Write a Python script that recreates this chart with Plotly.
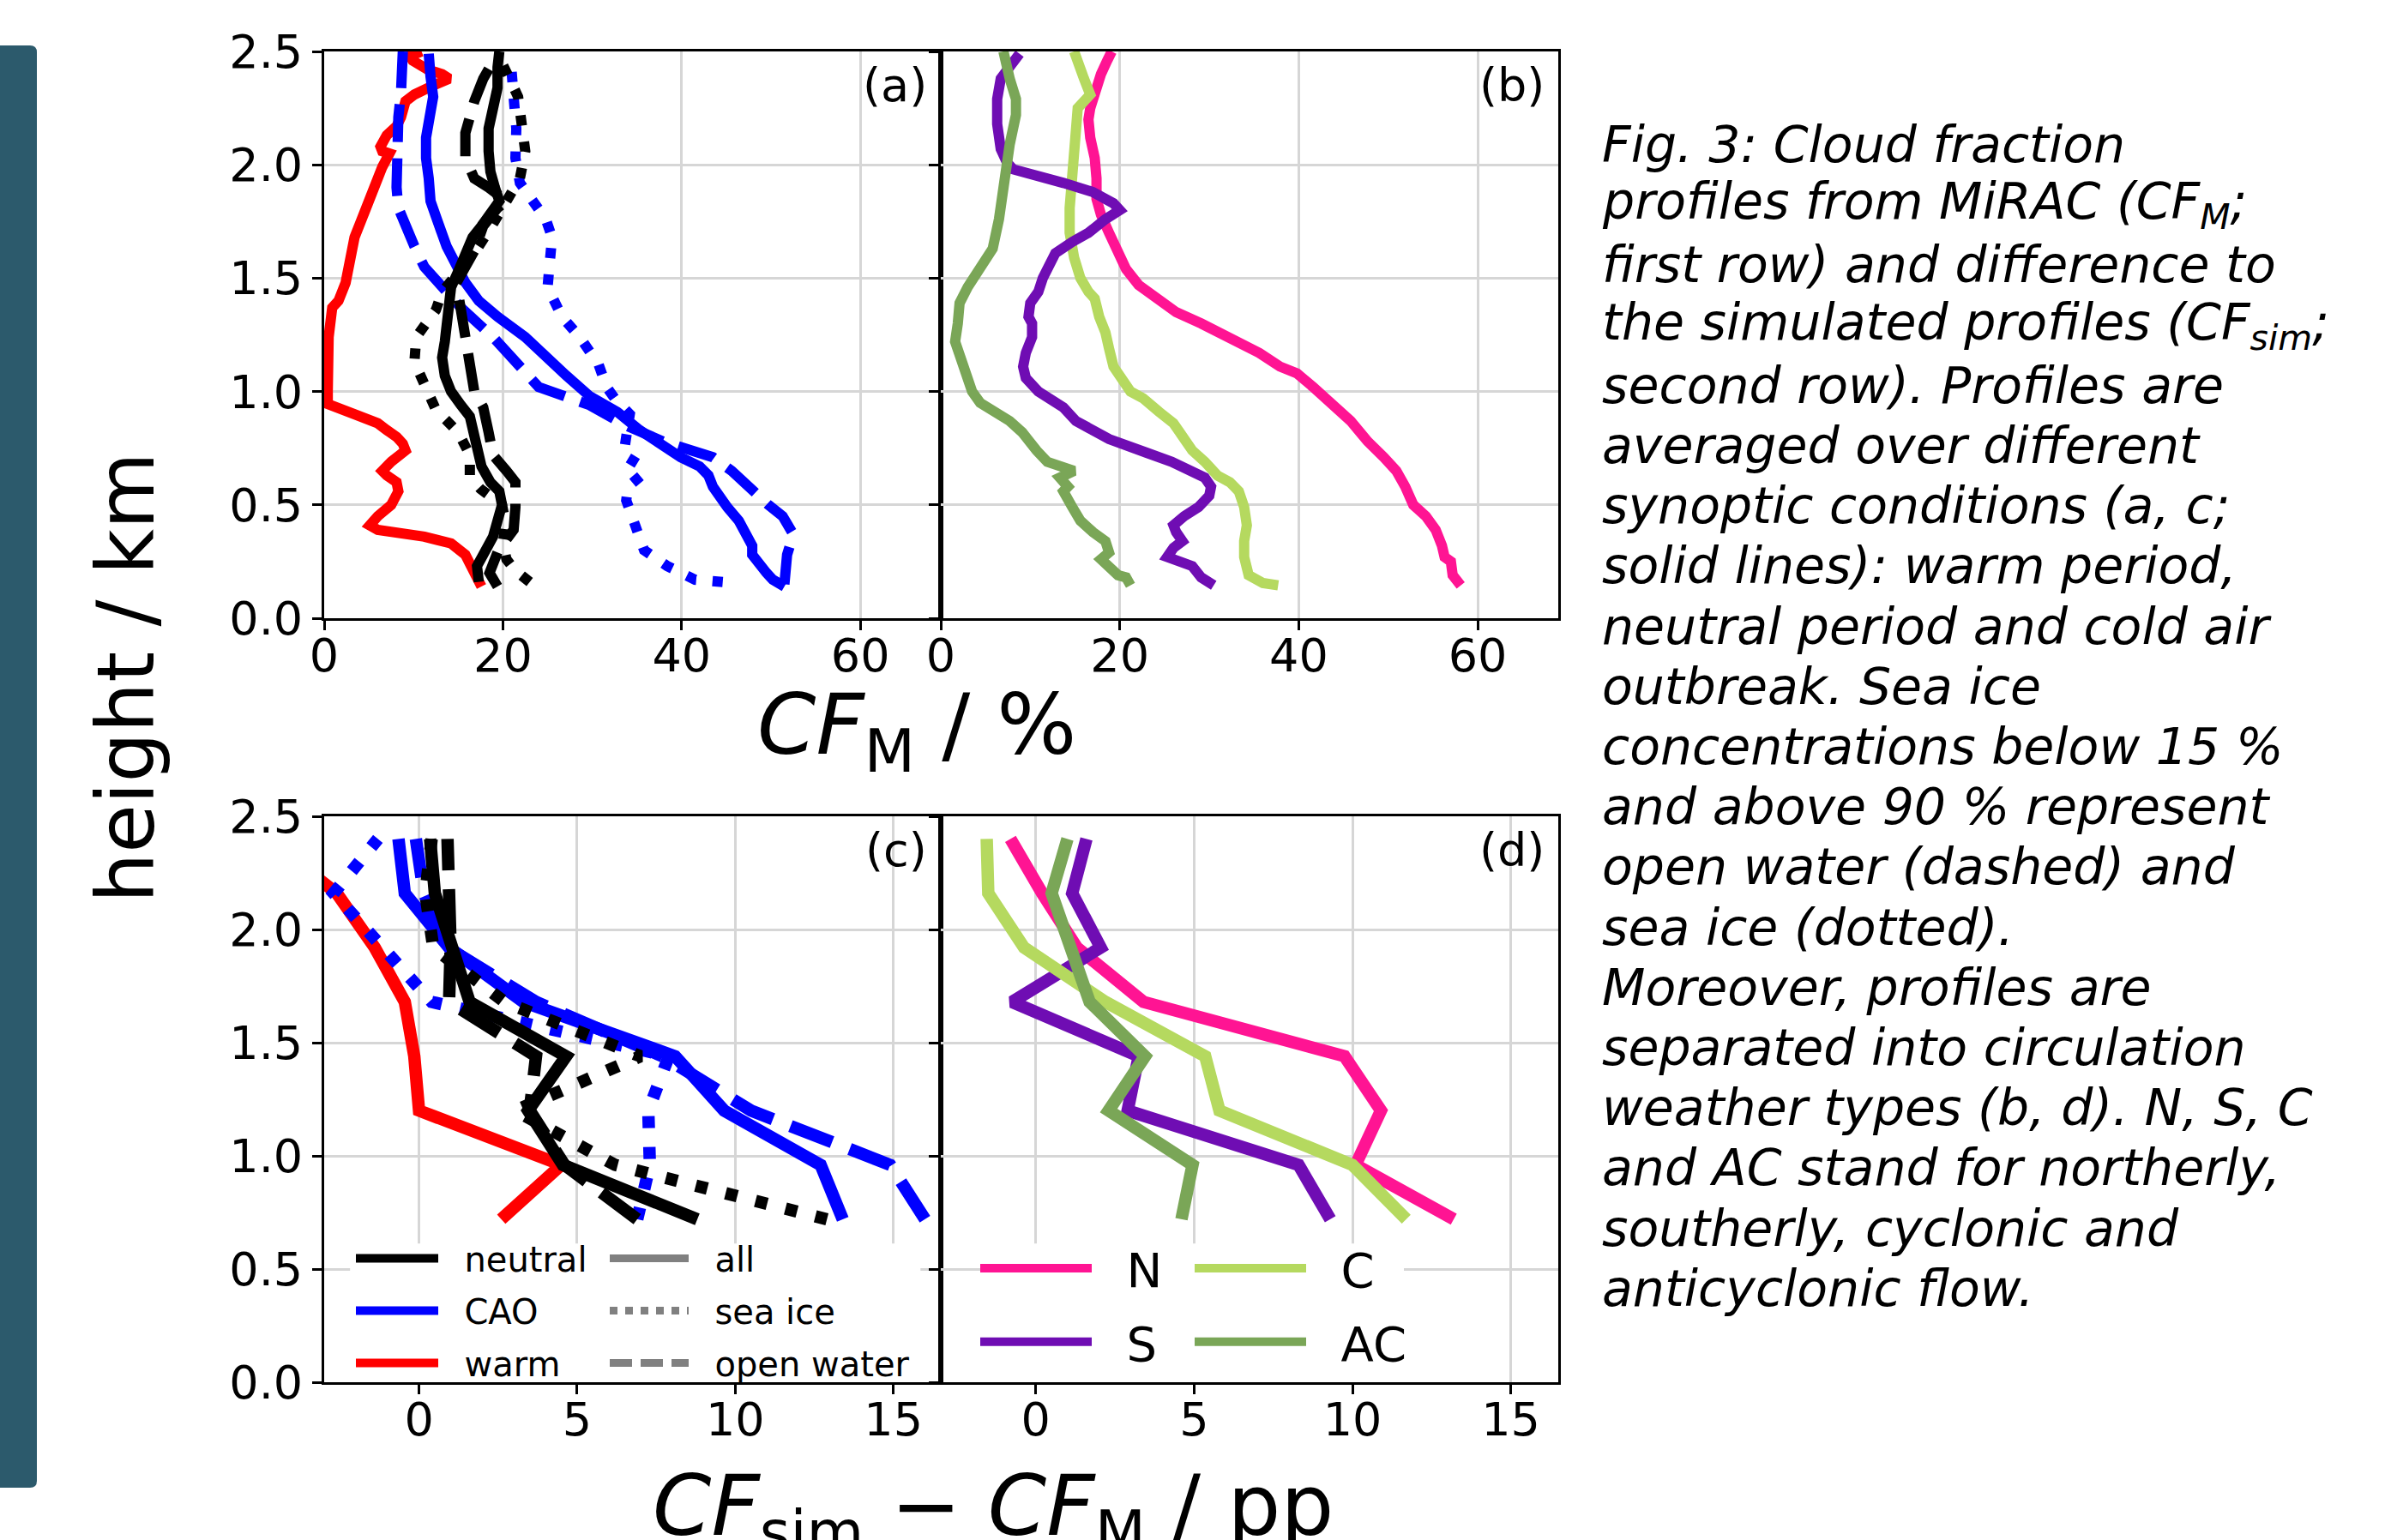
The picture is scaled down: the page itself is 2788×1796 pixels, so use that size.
import plotly.graph_objects as go

W, H = 2788, 1796

# ---------------- data: panel (a)  CF_M by synoptic condition ----------------
warm_all_a_h = [0.14, 0.23, 0.28, 0.33, 0.36, 0.39, 0.41, 0.45, 0.50, 0.56, 0.60, 0.63, 0.65, 0.69, 0.72,
                0.74, 0.77, 0.80, 0.83, 0.86, 0.90, 0.93, 0.945, 1.00, 1.11, 1.24, 1.37, 1.40, 1.48, 1.59,
                1.68, 1.79, 1.90, 1.99, 2.05, 2.06, 2.08, 2.13, 2.17, 2.21, 2.28, 2.31, 2.35, 2.38, 2.40,
                2.42, 2.46, 2.48, 2.50]
warm_all_a_cf = [17.6, 16.3, 15.8, 14.2, 11.2, 6.0, 5.1, 6.0, 7.5, 8.3, 8.1, 7.0, 6.5, 7.5, 8.6,
                 9.1, 8.8, 8.1, 7.0, 6.0, 3.4, 0.9, 0.4, 0.4, 0.4, 0.5, 0.9, 1.6, 2.4, 2.9,
                 3.4, 4.5, 5.5, 6.5, 7.3, 6.5, 6.3, 7.0, 8.1, 8.6, 9.1, 10.1, 12.2, 14.0, 13.2,
                 11.6, 9.9, 9.6, 10.9]

cao_all_a_h = [0.14, 0.17, 0.20, 0.25, 0.28, 0.32, 0.38, 0.43, 0.49, 0.54, 0.58, 0.63, 0.67, 0.71, 0.76,
               0.83, 0.91, 0.98, 1.07, 1.15, 1.24, 1.33, 1.40, 1.48, 1.55, 1.64, 1.75, 1.84, 1.94, 2.03,
               2.12, 2.21, 2.30, 2.39, 2.49]
cao_all_a_cf = [51.5, 50.2, 49.5, 48.7, 47.9, 47.9, 47.1, 46.4, 45.1, 44.1, 43.5, 43.0, 42.0, 39.9, 37.9,
                35.3, 32.8, 29.7, 27.1, 25.0, 22.5, 19.4, 17.3, 15.8, 14.8, 13.7, 12.7, 11.9, 11.7, 11.4,
                11.4, 11.7, 12.2, 11.9, 11.7]

cao_open_a_h = [0.15, 0.28, 0.37, 0.45, 0.50, 0.58, 0.65, 0.71, 0.74, 0.78, 0.85, 0.94, 1.02, 1.15, 1.24,
                1.37, 1.46, 1.55, 1.64, 1.75, 1.81, 1.90, 2.06, 2.21, 2.32, 2.41, 2.50]
cao_open_a_cf = [51.5, 51.8, 52.5, 51.3, 49.7, 47.7, 45.6, 43.5, 41.0, 37.9, 33.8, 29.7, 24.0, 20.9, 18.9,
                 15.3, 13.2, 11.2, 10.1, 9.1, 8.3, 8.1, 8.1, 8.3, 8.6, 8.8, 8.8]

cao_ice_a_h = [0.16, 0.17, 0.23, 0.30, 0.41, 0.52, 0.58, 0.63, 0.67, 0.72, 0.80, 0.90, 0.97, 1.02, 1.12,
               1.24, 1.33, 1.46, 1.55, 1.68, 1.76, 1.85, 1.92, 2.03, 2.16, 2.30, 2.45]
cao_ice_a_cf = [44.6, 41.5, 38.4, 35.8, 34.8, 33.8, 34.0, 35.5, 35.6, 33.5, 33.8, 34.2, 32.5, 31.6, 30.7,
                28.6, 26.6, 25.0, 25.2, 25.5, 24.8, 23.0, 21.9, 21.4, 21.5, 21.2, 20.9]

neutral_all_a_h = [0.16, 0.23, 0.28, 0.36, 0.43, 0.50, 0.56, 0.60, 0.67, 0.74, 0.82, 0.89, 0.94, 1.00, 1.07,
                   1.15, 1.22, 1.31, 1.39, 1.46, 1.53, 1.61, 1.68, 1.73, 1.79, 1.84, 1.90, 1.97, 2.06, 2.16,
                   2.25, 2.34, 2.43, 2.50]
neutral_all_a_cf = [17.3, 17.1, 17.8, 18.9, 19.4, 19.9, 19.6, 18.6, 17.6, 17.1, 16.8, 16.3, 15.3, 14.2, 13.5,
                    13.2, 13.5, 13.7, 14.0, 14.2, 15.0, 15.8, 16.6, 17.6, 18.6, 19.6, 19.1, 18.6, 18.4, 18.4,
                    18.9, 19.4, 19.4, 19.6]

neutral_open_a_h = [0.14, 0.20, 0.30, 0.39, 0.49, 0.60, 0.65, 0.72, 0.82, 0.93, 1.00, 1.11, 1.24, 1.39, 1.48,
                    1.62, 1.73, 1.81, 1.84, 1.90, 1.94, 2.03, 2.14, 2.28, 2.38, 2.47]
neutral_open_a_cf = [19.4, 18.5, 19.5, 21.2, 21.4, 21.4, 20.4, 18.9, 18.4, 17.8, 16.8, 16.3, 16.0, 15.3, 14.8,
                     16.8, 17.8, 19.4, 20.4, 18.4, 16.8, 15.8, 15.8, 16.8, 17.8, 19.1]

neutral_ice_a_h = [0.16, 0.21, 0.26, 0.33, 0.42, 0.50, 0.57, 0.62, 0.72, 0.82, 0.92, 1.02, 1.13, 1.24, 1.29,
                   1.36, 1.44, 1.53, 1.61, 1.72, 1.83, 1.94, 2.06, 2.19, 2.30, 2.40, 2.48]
neutral_ice_a_cf = [23.0, 21.4, 20.4, 20.0, 20.3, 19.9, 17.5, 16.3, 16.3, 15.0, 12.5, 11.4, 10.1, 10.3, 11.3,
                    12.5, 13.2, 15.0, 16.8, 18.6, 20.4, 21.9, 22.5, 22.2, 21.7, 20.5, 19.5]

# ---------------- data: panel (b)  CF_M by circulation weather type ----------------
N_b_h = [0.145, 0.19, 0.25, 0.27, 0.32, 0.39, 0.45, 0.50, 0.58, 0.65, 0.71, 0.78, 0.87, 0.96, 1.02,
         1.08, 1.11, 1.17, 1.21, 1.26, 1.30, 1.35, 1.41, 1.47, 1.54, 1.61, 1.70, 1.78, 1.85, 1.94,
         2.03, 2.12, 2.20, 2.25, 2.33, 2.40, 2.46, 2.50]
N_b_cf = [58.1, 57.2, 57.0, 56.3, 56.0, 55.3, 54.2, 52.8, 51.9, 50.9, 49.5, 47.7, 45.8, 43.5, 41.6,
          39.8, 37.9, 35.6, 33.7, 31.4, 29.1, 26.3, 24.4, 22.1, 20.7, 20.0, 18.8, 17.9, 17.4, 17.4,
          17.2, 16.7, 16.5, 16.7, 17.2, 17.9, 18.6, 19.1]

S_b_h = [0.145, 0.18, 0.23, 0.25, 0.27, 0.31, 0.34, 0.38, 0.41, 0.45, 0.49, 0.54, 0.58, 0.62, 0.65,
         0.69, 0.73, 0.76, 0.79, 0.84, 0.87, 0.93, 0.96, 1.00, 1.06, 1.11, 1.17, 1.24, 1.30, 1.33,
         1.39, 1.44, 1.50, 1.55, 1.61, 1.66, 1.70, 1.76, 1.80, 1.83, 1.88, 1.92, 1.96, 1.98, 2.01,
         2.07, 2.18, 2.29, 2.38, 2.44, 2.49]
S_b_cf = [30.5, 29.1, 28.1, 26.7, 25.3, 26.0, 27.0, 26.3, 26.0, 27.2, 28.8, 30.0, 30.2, 29.5, 28.1,
          25.8, 23.0, 20.7, 18.8, 16.5, 15.1, 13.7, 12.3, 10.9, 9.5, 9.2, 9.5, 10.2, 10.2, 9.8,
          10.0, 10.9, 11.4, 11.9, 12.8, 14.7, 16.5, 18.4, 20.0, 19.3, 17.0, 13.7, 10.5, 8.1, 7.4,
          6.7, 6.3, 6.3, 6.7, 7.7, 8.8]

C_b_h = [0.145, 0.155, 0.19, 0.27, 0.34, 0.41, 0.49, 0.56, 0.60, 0.63, 0.69, 0.74, 0.82, 0.86, 0.91,
         0.97, 1.00, 1.06, 1.11, 1.19, 1.26, 1.33, 1.41, 1.44, 1.50, 1.59, 1.70, 1.81, 1.92, 2.07,
         2.20, 2.25, 2.31, 2.38, 2.46, 2.50]
C_b_cf = [37.7, 36.0, 34.4, 33.9, 33.9, 34.2, 33.9, 33.3, 32.3, 30.9, 29.5, 28.1, 26.7, 26.0, 24.4,
          22.6, 21.2, 20.2, 19.3, 18.8, 18.4, 17.7, 17.2, 16.5, 15.6, 14.9, 14.4, 14.4, 14.7, 15.1,
          15.2, 15.3, 16.7, 16.0, 15.3, 14.9]

AC_b_h = [0.145, 0.18, 0.19, 0.22, 0.26, 0.29, 0.34, 0.38, 0.43, 0.49, 0.56, 0.58, 0.62, 0.65, 0.67,
          0.69, 0.74, 0.82, 0.87, 0.91, 0.95, 1.00, 1.06, 1.15, 1.22, 1.30, 1.39, 1.46, 1.54, 1.63,
          1.76, 1.89, 2.00, 2.09, 2.22, 2.29, 2.38, 2.46, 2.50]
AC_b_cf = [21.2, 20.7, 19.8, 18.8, 17.9, 18.8, 18.4, 17.0, 15.6, 14.7, 13.7, 14.2, 13.3, 14.9, 12.8,
           11.9, 10.7, 9.1, 7.7, 5.8, 4.4, 3.5, 3.0, 2.1, 1.6, 1.9, 2.1, 3.0, 4.4, 5.8,
           6.5, 6.9, 7.2, 7.7, 8.4, 8.4, 7.7, 7.2, 7.0]

# ---------------- data: panels (c), (d)  CF_sim - CF_M ----------------
heights_cd = [0.72, 0.96, 1.20, 1.44, 1.68, 1.92, 2.16, 2.40]
neutral_all_c = [8.8, 4.55, 3.45, 4.65, 1.6, 1.0, 0.5, 0.35]
neutral_ice_c = [12.9, 6.2, 3.05, 7.0, 2.7, 0.45, 0.2, 0.4]
neutral_open_c = [6.9, 4.6, 3.5, 3.7, 0.95, 1.0, 0.95, 0.9]
cao_all_c = [13.4, 12.7, 9.65, 8.1, 3.3, 0.95, -0.45, -0.65]
cao_ice_c = [6.9, 7.3, 7.25, 7.9, 0.4, -1.1, -2.7, -1.3]
cao_open_c = [16.0, 14.9, 10.5, 7.7, 3.7, 0.9, 0.15, -0.1]
warm_all_c = [2.6, 4.5, 0.0, -0.15, -0.45, -1.4, -2.6, -4.8]

N_d = [13.2, 10.1, 10.9, 9.75, 3.4, 1.3, 0.2, -0.8]
S_d = [9.3, 8.3, 2.9, 3.25, -0.75, 2.05, 1.15, 1.6]
C_d = [11.7, 10.0, 5.8, 5.35, 2.2, -0.37, -1.5, -1.55]
AC_d = [4.6, 4.95, 2.3, 3.45, 1.7, 1.05, 0.5, 1.0]

# labels / ticks
height_ticks = [0.0, 0.5, 1.0, 1.5, 2.0, 2.5]
cf_ticks = [0, 20, 40, 60]
diff_ticks = [0, 5, 10, 15]
cond_labels = ["neutral", "CAO", "warm"]
surf_labels = ["all", "sea ice", "open water"]
cwt_labels = ["N", "S", "C", "AC"]
panel_labels = ["(a)", "(b)", "(c)", "(d)"]

caption_lines = [
    "Fig. 3: Cloud fraction",
    "profiles from MiRAC (CF<sub>M</sub>;",
    "first row) and difference to",
    "the simulated profiles (CF<sub>sim</sub>;",
    "second row). Profiles are",
    "averaged over different",
    "synoptic conditions (a, c;",
    "solid lines): warm period,",
    "neutral period and cold air",
    "outbreak. Sea ice",
    "concentrations below 15 %",
    "and above 90 % represent",
    "open water (dashed) and",
    "sea ice (dotted).",
    "Moreover, profiles are",
    "separated into circulation",
    "weather types (b, d). N, S, C",
    "and AC stand for northerly,",
    "southerly, cyclonic and",
    "anticyclonic flow.",
]

# ---------------- styling ----------------
FONT = "DejaVu Sans"
COL = {"neutral": "black", "CAO": "#0000ff", "warm": "#ff0000",
       "N": "#ff1493", "S": "#6f0db3", "C": "#b5d95f", "AC": "#7aa657"}
LW_TOP = 12
LW_BOT = 14.5
DOT_TOP, DASH_TOP = "12px,19px", "44px,19px"
DOT_BOT, DASH_BOT = "14px,22px", "52px,22px"
GAP = "\u00a0\u00a0"   # small gap between legend glyph and its text


def px(x):
    return x / W


def py(y):
    return 1 - y / H


fig = go.Figure()


def add_line(xv, yv, color, width, dash, xa, ya, name=None, legend=None, show=False):
    fig.add_trace(go.Scatter(
        x=xv, y=yv, mode="lines", name=name,
        line=dict(color=color, width=width, dash=dash),
        xaxis=xa, yaxis=ya, showlegend=show,
        legend=legend if legend else "legend",
        legendgroup=name if show else None,
        hoverinfo="skip"))


# panel (a)
add_line(warm_all_a_cf, warm_all_a_h, COL["warm"], LW_TOP, "solid", "x", "y")
add_line(cao_ice_a_cf, cao_ice_a_h, COL["CAO"], LW_TOP, DOT_TOP, "x", "y")
add_line(cao_open_a_cf, cao_open_a_h, COL["CAO"], LW_TOP, DASH_TOP, "x", "y")
add_line(cao_all_a_cf, cao_all_a_h, COL["CAO"], LW_TOP, "solid", "x", "y")
add_line(neutral_ice_a_cf, neutral_ice_a_h, COL["neutral"], LW_TOP, DOT_TOP, "x", "y")
add_line(neutral_open_a_cf, neutral_open_a_h, COL["neutral"], LW_TOP, DASH_TOP, "x", "y")
add_line(neutral_all_a_cf, neutral_all_a_h, COL["neutral"], LW_TOP, "solid", "x", "y")

# panel (b)
add_line(N_b_cf, N_b_h, COL["N"], LW_TOP, "solid", "x2", "y2")
add_line(C_b_cf, C_b_h, COL["C"], LW_TOP, "solid", "x2", "y2")
add_line(S_b_cf, S_b_h, COL["S"], LW_TOP, "solid", "x2", "y2")
add_line(AC_b_cf, AC_b_h, COL["AC"], LW_TOP, "solid", "x2", "y2")

# panel (c)
add_line(warm_all_c, heights_cd, COL["warm"], LW_BOT, "solid", "x3", "y3")
add_line(cao_ice_c, heights_cd, COL["CAO"], LW_BOT, DOT_BOT, "x3", "y3")
add_line(cao_open_c, heights_cd, COL["CAO"], LW_BOT, DASH_BOT, "x3", "y3")
add_line(cao_all_c, heights_cd, COL["CAO"], LW_BOT, "solid", "x3", "y3")
add_line(neutral_ice_c, heights_cd, COL["neutral"], LW_BOT, DOT_BOT, "x3", "y3")
add_line(neutral_open_c, heights_cd, COL["neutral"], LW_BOT, DASH_BOT, "x3", "y3")
add_line(neutral_all_c, heights_cd, COL["neutral"], LW_BOT, "solid", "x3", "y3")

# legend entries for panel (c): conditions (solid) and surface types (grey)
for lab in cond_labels:
    add_line([None], [None], COL[lab], 12, "solid", "x3", "y3", name=GAP + lab, legend="legend", show=True)
for lab, d in zip(surf_labels, ["solid", "9px,9px", "26px,10px"]):
    add_line([None], [None], "#808080", 9, d, "x3", "y3", name=GAP + lab, legend="legend2", show=True)

# panel (d)
cwt_data = {"N": N_d, "S": S_d, "C": C_d, "AC": AC_d}
for lab, leg in zip(cwt_labels, ["legend3", "legend3", "legend4", "legend4"]):
    add_line(cwt_data[lab], heights_cd, COL[lab], LW_BOT, "solid", "x4", "y4",
             name=GAP + lab, legend=leg, show=True)

# ---------------- axes ----------------
tickfont = dict(family=FONT, size=54, color="black")
common = dict(showline=True, linecolor="black", linewidth=3, mirror=True,
              ticks="outside", ticklen=11, tickwidth=3, tickcolor="black",
              showgrid=True, gridcolor="#d6d6d6", gridwidth=3, zeroline=False,
              tickfont=tickfont, automargin=False)
xstand = dict(ticklabelstandoff=-17)

col1 = [px(378), px(1097)]
col2 = [px(1097), px(1817)]
row1 = [py(721), py(60)]
row2 = [py(1612), py(952)]

X_TOP = [0, 69]
X_BOT = [-3, 16.5]
fig.update_layout(
    xaxis=dict(domain=col1, range=X_TOP, tickvals=cf_ticks, anchor="y", **common, **xstand),
    xaxis2=dict(domain=col2, range=X_TOP, tickvals=cf_ticks, anchor="y2", **common, **xstand),
    xaxis3=dict(domain=col1, range=X_BOT, tickvals=diff_ticks, anchor="y3", **common, **xstand),
    xaxis4=dict(domain=col2, range=X_BOT, tickvals=diff_ticks, anchor="y4", **common, **xstand),
    yaxis=dict(domain=row1, range=[0, 2.5], tickvals=height_ticks, tickformat=".1f", anchor="x", **common),
    yaxis2=dict(domain=row1, range=[0, 2.5], tickvals=height_ticks, showticklabels=False, anchor="x2", **common),
    yaxis3=dict(domain=row2, range=[0, 2.5], tickvals=height_ticks, tickformat=".1f", anchor="x3", **common),
    yaxis4=dict(domain=row2, range=[0, 2.5], tickvals=height_ticks, showticklabels=False, anchor="x4", **common),
)

leg_common = dict(bgcolor="rgba(0,0,0,0)", borderwidth=0, xanchor="left", yanchor="top",
                  traceorder="grouped")
fig.update_layout(
    legend=dict(x=px(410), y=py(1435), font=dict(family=FONT, size=40, color="black"),
                tracegroupgap=6, itemwidth=96, **leg_common),
    legend2=dict(x=px(706), y=py(1435), font=dict(family=FONT, size=40, color="black"),
                 tracegroupgap=6, itemwidth=92, **leg_common),
    legend3=dict(x=px(1138), y=py(1436), font=dict(family=FONT, size=56, color="black"),
                 tracegroupgap=10, itemwidth=130, **leg_common),
    legend4=dict(x=px(1388), y=py(1436), font=dict(family=FONT, size=56, color="black"),
                 tracegroupgap=10, itemwidth=130, **leg_common),
)

# ---------------- annotations ----------------
ann = []
for lab, xr, yr in zip(panel_labels, ["x", "x2", "x3", "x4"], ["y", "y2", "y3", "y4"]):
    ann.append(dict(text=lab, xref=xr + " domain", yref=yr + " domain", x=1, y=1,
                    xanchor="right", yanchor="top", xshift=-14, yshift=-6, showarrow=False,
                    font=dict(family=FONT, size=54, color="black")))

ann.append(dict(text="height / km", xref="paper", yref="paper", x=px(148), y=py(790),
                xanchor="center", yanchor="middle", textangle=-90, showarrow=False,
                font=dict(family=FONT, size=92, color="black")))
ann.append(dict(text="<i>CF</i><sub>M</sub> / %", xref="paper", yref="paper", x=px(1069), y=py(852),
                xanchor="center", yanchor="middle", showarrow=False,
                font=dict(family=FONT, size=98, color="black")))
ann.append(dict(text="<i>CF</i><sub>sim</sub> \u2212 <i>CF</i><sub>M</sub> / pp", xref="paper", yref="paper",
                x=px(1158), y=py(1763), xanchor="center", yanchor="middle", showarrow=False,
                font=dict(family=FONT, size=98, color="black")))

for i, line in enumerate(caption_lines):
    base = 188 + i * 70.2
    ann.append(dict(text="<i>" + line + "</i>", xref="paper", yref="paper", x=px(1866), y=py(base - 19),
                    xanchor="left", yanchor="middle", showarrow=False,
                    font=dict(family=FONT, size=58.5, color="black")))

# decorative teal bar at left edge
x1 = px(43)
yt, yb = py(53), py(1735)
rx, ry = 8 / W, 8 / H
bar_path = (f"M0,{yt} L{x1 - rx},{yt} Q{x1},{yt} {x1},{yt - ry} L{x1},{yb + ry} "
            f"Q{x1},{yb} {x1 - rx},{yb} L0,{yb} Z")


# white legend frames (hide the grid behind the legends; kept below traces and axis lines)
def dom_to_data(rng, f):
    return rng[0] + f * (rng[1] - rng[0])


FRAME_TOP = 0.2450 * 2.5
legend_frames = [
    dict(type="rect", xref="x3", yref="y3",
         x0=dom_to_data(X_BOT, 0.042), x1=dom_to_data(X_BOT, 0.967), y0=0, y1=FRAME_TOP,
         fillcolor="white", line=dict(width=0), layer="between"),
    dict(type="rect", xref="x4", yref="y4",
         x0=dom_to_data(X_BOT, 0.064), x1=dom_to_data(X_BOT, 0.75), y0=0, y1=FRAME_TOP,
         fillcolor="white", line=dict(width=0), layer="between"),
]

fig.update_layout(
    annotations=ann,
    shapes=[dict(type="path", path=bar_path, xref="paper", yref="paper",
                 fillcolor="#2c5a6c", line=dict(width=0), layer="above")] + legend_frames,
    width=W, height=H, margin=dict(l=0, r=0, t=0, b=0),
    paper_bgcolor="white", plot_bgcolor="white", template="none",
    font=dict(family=FONT, color="black"),
)

fig.write_html("out.html", config={"displayModeBar": False},
               post_script="document.body.style.margin='0px';")
